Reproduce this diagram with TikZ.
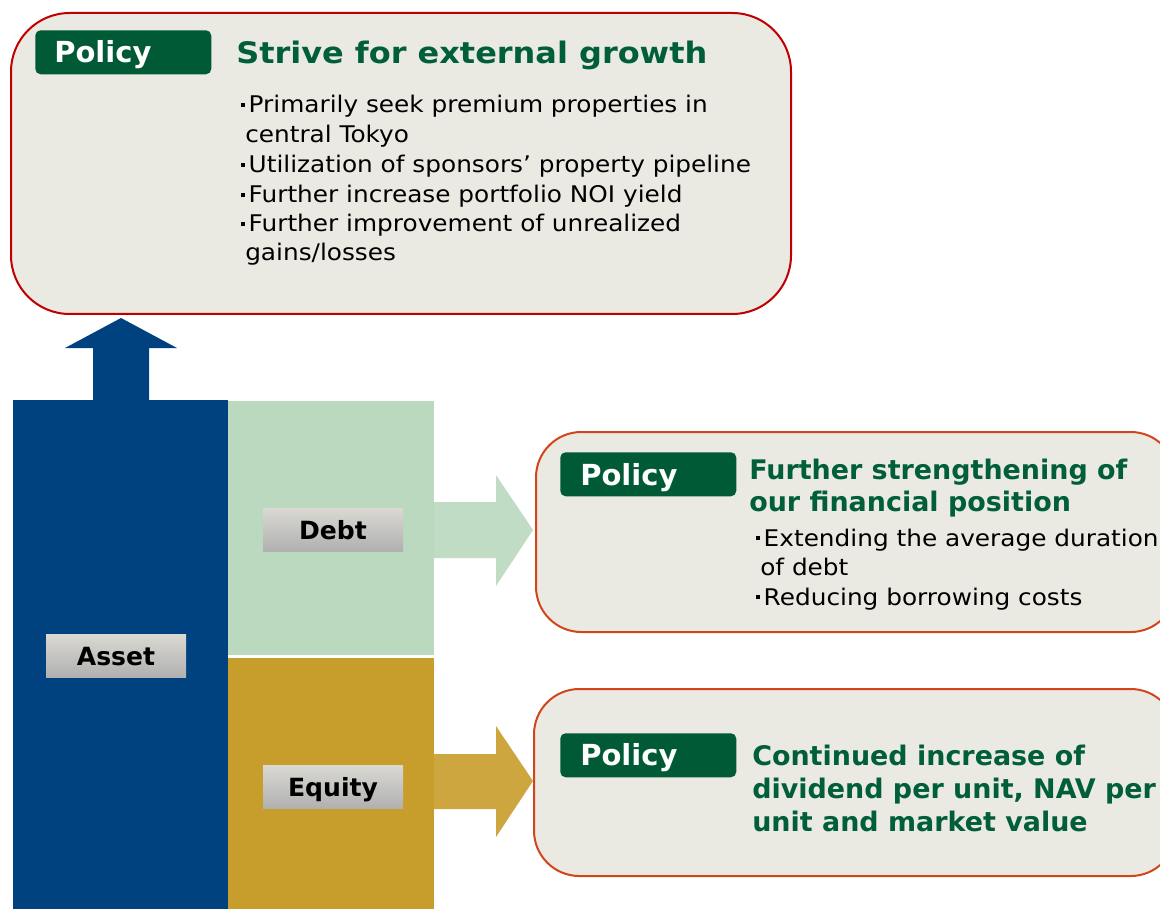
\documentclass[tikz,border=0pt]{standalone}
\usepackage{fontspec}
\setmainfont{DejaVu Sans}
\newfontfamily\widefont{DejaVu Sans}[FakeStretch=1.08]
\definecolor{boxfill}{HTML}{EAE9E2}
\definecolor{redline}{HTML}{C00000}
\definecolor{orangeline}{HTML}{D2441A}
\definecolor{policygreen}{HTML}{005A35}
\definecolor{titlegreen}{HTML}{005F38}
\definecolor{assetblue}{HTML}{00427F}
\definecolor{debtgreen}{HTML}{BBD9BE}
\definecolor{arrowgreen}{HTML}{C0DCC4}
\definecolor{equitygold}{HTML}{C79E2B}
\definecolor{arrowgold}{HTML}{CDA640}
\newcommand\bul{\makebox[0.5em][c]{\rule[0.25em]{0.175em}{0.175em}}}
\begin{document}
\begin{tikzpicture}[x=0.75pt,y=-0.75pt,
  pbox/.style={draw=#1, line width=1.5pt, fill=boxfill, anchor=north west, inner sep=0pt},
  badge/.style={fill=policygreen, rounded corners=4pt, anchor=north west, inner sep=0pt,
    minimum width=132pt, minimum height=33pt},
  badgetext/.style={anchor=base west, inner sep=0pt, text=white, font=\fontsize{21.75pt}{26pt}\selectfont\bfseries},
  toptitle/.style={anchor=base west, inner sep=0pt, text=titlegreen, font=\widefont\fontsize{22.2pt}{27pt}\selectfont\bfseries},
  subtitle/.style={anchor=base west, inner sep=0pt, text=titlegreen, font=\fontsize{20.2pt}{24pt}\selectfont\bfseries},
  body/.style={anchor=base west, inner sep=0pt, text=black, font=\widefont\fontsize{17.2pt}{20pt}\selectfont},
  block/.style={fill=#1, anchor=north west, inner sep=0pt, draw=none},
  lbl/.style={top color=black!7!boxfill, bottom color=black!31, draw=none, inner sep=0pt,
    minimum width=105pt, minimum height=32.25pt, text height=13.7pt, text depth=0pt,
    font=\fontsize{18.8pt}{22pt}\selectfont\bfseries}
]
\useasboundingbox (0,0) rectangle (1160,909);
\clip (0,0) rectangle (1160,909);

% policy boxes
\node[pbox=redline, rounded corners=44pt, minimum width=585pt, minimum height=225.75pt] (topbox) at (10,12) {};
\node[pbox=orangeline, rounded corners=34pt, minimum width=480pt, minimum height=150pt] (midbox) at (535,431) {};
\node[pbox=orangeline, rounded corners=34pt, minimum width=481.5pt, minimum height=140.25pt] (botbox) at (533,688) {};

% top box content
\node[badge] (b1) at (35,30) {};
\node[badgetext] (p1) at (54,63) {Policy};
\node[toptitle] (t1) at (236,64) {Strive for external growth};
\node[body] (l1) at (237,113) {\bul Primarily seek premium properties in};
\node[body] (l2) at (245,143) {central Tokyo};
\node[body] (l3) at (237,173) {\bul Utilization of sponsors’ property pipeline};
\node[body] (l4) at (237,203) {\bul Further increase portfolio NOI yield};
\node[body] (l5) at (237,232) {\bul Further improvement of unrealized};
\node[body] (l6) at (245,261) {gains/losses};

% middle box content
\node[badge] (b2) at (560,452) {};
\node[badgetext] (p2) at (580,485) {Policy};
\node[subtitle] (t2a) at (749,479) {Further strengthening of};
\node[subtitle] (t2b) at (749,511) {our financial position};
\node[body] (m1) at (752,546) {\bul Extending the average duration};
\node[body] (m2) at (760,575) {of debt};
\node[body] (m3) at (752,605) {\bul Reducing borrowing costs};

% bottom box content
\node[badge] (b3) at (560,733) {};
\node[badgetext] (p3) at (580,765) {Policy};
\node[subtitle] (t3a) at (752,765) {Continued increase of};
\node[subtitle] (t3b) at (752,798) {dividend per unit, NAV per};
\node[subtitle] (t3c) at (752,831) {unit and market value};

% balance sheet blocks
\node[block=assetblue, minimum width=161.25pt, minimum height=381.75pt] (asset) at (13,400) {};
\node[block=debtgreen, minimum width=154.5pt, minimum height=190.5pt] (debt) at (228,401) {};
\node[block=equitygold, minimum width=154.5pt, minimum height=188.25pt] (equity) at (228,658) {};

% block arrows
\fill[assetblue] (93,400) -- (93,348) -- (65,348) -- (121,318) -- (177,348) -- (149,348) -- (149,400) -- cycle;
\fill[arrowgreen] (434,502) -- (496,502) -- (496,475) -- (533,530) -- (496,586) -- (496,558) -- (434,558) -- cycle;
\fill[arrowgold] (434,754) -- (496,754) -- (496,726) -- (533,781) -- (496,837) -- (496,809) -- (434,809) -- cycle;

% labels
\node[lbl] (debtl) at (333,530) {Debt};
\node[lbl] (assetl) at (116,656) {Asset};
\node[lbl] (equityl) at (333,787) {Equity};
\end{tikzpicture}
\end{document}
